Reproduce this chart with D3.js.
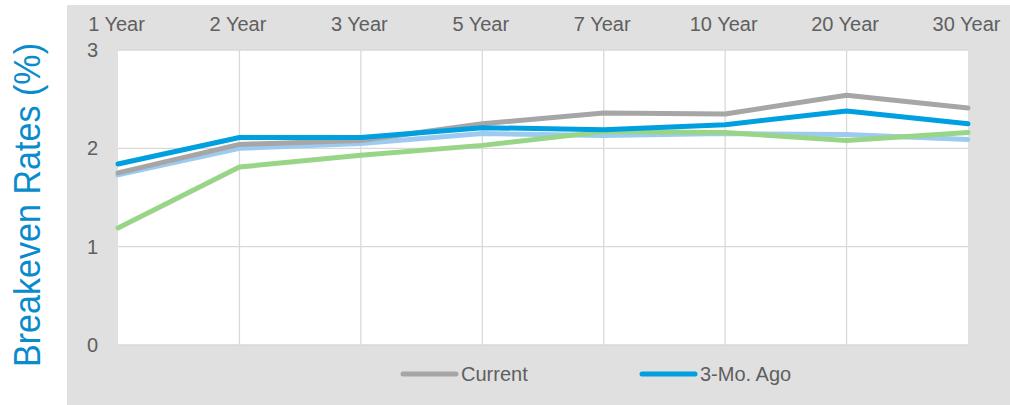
<!DOCTYPE html>
<html>
<head>
<meta charset="utf-8">
<script src="https://cdn.jsdelivr.net/npm/d3@7"></script>
<style>
  body { margin: 0; background: #fff; }
  text { font-family: 'Liberation Sans', Arial, sans-serif; }
</style>
</head>
<body>
<script>
// maturities across the top
const maturities = ['1 Year', '2 Year', '3 Year', '5 Year', '7 Year', '10 Year', '20 Year', '30 Year']
const yTicks = [0, 1, 2, 3]

// breakeven rates (%)
const current = [1.75, 2.04, 2.08, 2.25, 2.36, 2.35, 2.54, 2.41]
const threeMoAgo = [1.84, 2.11, 2.11, 2.21, 2.19, 2.24, 2.38, 2.25]
const sixMoAgo = [1.73, 2.00, 2.05, 2.15, 2.13, 2.15, 2.14, 2.09]
const oneYrAgo = [1.19, 1.81, 1.93, 2.03, 2.17, 2.16, 2.08, 2.16]

const width = 1010
const height = 405

const svg = d3.select('body')
  .append('svg')
  .attr('width', width)
  .attr('height', height)

// grey panel behind the chart
svg.append('rect')
  .attr('x', 67)
  .attr('y', 5)
  .attr('width', width - 67)
  .attr('height', height - 5)
  .attr('fill', '#dfe0df')

const xScale = d3.scalePoint()
  .domain(maturities)
  .range([118, 968])

const yScale = d3.scaleLinear()
  .domain([0, 3])
  .range([345, 50])

// white plot area
svg.append('rect')
  .attr('x', 118)
  .attr('y', 50)
  .attr('width', 968 - 118)
  .attr('height', 345 - 50)
  .attr('fill', '#fff')

//gridlines
svg.append('g')
  .selectAll('line')
  .data(yTicks)
  .enter()
  .append('line')
  .attr('x1', 118)
  .attr('x2', 968)
  .attr('y1', (d) => yScale(d))
  .attr('y2', (d) => yScale(d))
  .attr('stroke', '#d9d9d9')
  .attr('stroke-width', 1.3)

svg.append('g')
  .selectAll('line')
  .data(maturities.slice(1, -1))
  .enter()
  .append('line')
  .attr('x1', (d) => xScale(d))
  .attr('x2', (d) => xScale(d))
  .attr('y1', 50)
  .attr('y2', 345)
  .attr('stroke', '#d9d9d9')
  .attr('stroke-width', 1.3)

// top axis labels
const xAxis = d3.axisTop(xScale).tickSize(0).tickPadding(0)
svg.append('g')
  .attr('transform', 'translate(-2,31)')
  .call(xAxis)
  .call((g) => g.select('.domain').remove())
  .selectAll('text')
  .attr('font-size', '20px')
  .attr('fill', '#5f5f5f')
  .attr('dy', 0)

const yAxis = d3.axisLeft(yScale).tickValues(yTicks).tickFormat(d3.format('d')).tickSize(0).tickPadding(0)
svg.append('g')
  .attr('transform', 'translate(98,0)')
  .call(yAxis)
  .call((g) => g.select('.domain').remove())
  .selectAll('text')
  .attr('font-size', '20px')
  .attr('fill', '#5f5f5f')

// series lines, bottom to top
const series = [
  { name: '6-Mo. Ago', values: sixMoAgo, color: '#9dcbef' },
  { name: '1-Yr. Ago', values: oneYrAgo, color: '#99d587' },
  { name: 'Current', values: current, color: '#a6a6a6' },
  { name: '3-Mo. Ago', values: threeMoAgo, color: '#009fdf' }
]

const line = d3.line()
  .x((d, i) => xScale(maturities[i]))
  .y((d) => yScale(d))

svg.append('g')
  .selectAll('path')
  .data(series)
  .enter()
  .append('path')
  .attr('d', (d) => line(d.values))
  .attr('fill', 'none')
  .attr('stroke', (d) => d.color)
  .attr('stroke-width', 5)
  .attr('stroke-linejoin', 'round')
  .attr('stroke-linecap', 'round')

// legend (only the first two entries show)
const legend = [
  { name: 'Current', color: '#a6a6a6', x: 403 },
  { name: '3-Mo. Ago', color: '#009fdf', x: 642 }
]

const leg = svg.append('g')
  .selectAll('g')
  .data(legend)
  .enter()
  .append('g')
  .attr('transform', (d) => 'translate(' + d.x + ',374)')

leg.append('line')
  .attr('x1', 0)
  .attr('x2', 53)
  .attr('stroke', (d) => d.color)
  .attr('stroke-width', 5)
  .attr('stroke-linecap', 'round')

leg.append('text')
  .attr('x', 58)
  .attr('y', 7)
  .attr('font-size', '20px')
  .attr('fill', '#5f5f5f')
  .text((d) => d.name)

svg.append('text')
  .attr('x', -205)
  .attr('y', 40)
  .attr('transform', 'rotate(-90)')
  .attr('text-anchor', 'middle')
  .attr('font-size', '37px')
  .attr('textLength', 324)
  .attr('lengthAdjust', 'spacingAndGlyphs')
  .attr('fill', '#0a8bcb')
  .text('Breakeven Rates (%)')
</script>
</body>
</html>
